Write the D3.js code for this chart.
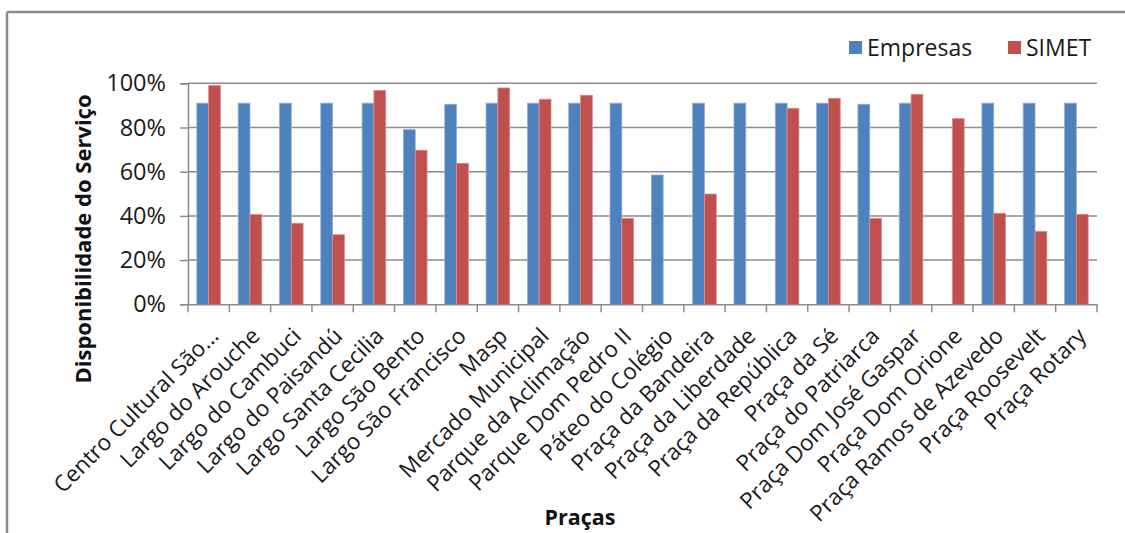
<!DOCTYPE html>
<html>
<head>
<meta charset="utf-8">
<script src="https://cdn.jsdelivr.net/npm/d3@7"></script>
<style>
  html, body { margin: 0; padding: 0; background: #fff; }
  svg { display: block; font-family: "Open Sans", sans-serif; }
</style>
</head>
<body>
<svg id="chart" width="1125" height="533"></svg>
<script>
const categories = [
  "Centro Cultural São…", "Largo do Arouche", "Largo do Cambuci", "Largo do Paisandú",
  "Largo Santa Cecilia", "Largo São Bento", "Largo São Francisco", "Masp",
  "Mercado Municipal", "Parque da Aclimação", "Parque Dom Pedro II", "Páteo do Colégio",
  "Praça da Bandeira", "Praça da Liberdade", "Praça da República", "Praça da Sé",
  "Praça do Patriarca", "Praça Dom José Gaspar", "Praça Dom Orione", "Praça Ramos de Azevedo",
  "Praça Roosevelt", "Praça Rotary"
];
const empresas = [0.91, 0.91, 0.91, 0.91, 0.91, 0.79, 0.905, 0.91, 0.91, 0.91, 0.91, 0.585,
                  0.91, 0.91, 0.91, 0.91, 0.905, 0.91, null, 0.91, 0.91, 0.91];
const simet = [0.99, 0.407, 0.367, 0.315, 0.968, 0.697, 0.638, 0.979, 0.928, 0.946, 0.389, null,
               0.499, null, 0.887, 0.932, 0.389, 0.95, 0.84, 0.412, 0.33, 0.407];
const yTicks = [0, 0.2, 0.4, 0.6, 0.8, 1.0];
const seriesNames = ["Empresas", "SIMET"];
const seriesColors = ["#4F81BD", "#C0504D"];
const seriesStroke = ["#8AAEDC", "#DC8C8A"];

const svg = d3.select("#chart");

// frame
svg.append("line").attr("x1", 7).attr("x2", 1125).attr("y1", 12).attr("y2", 12)
  .attr("stroke", "#8a8a8a").attr("stroke-width", 2.5);
svg.append("line").attr("x1", 7).attr("x2", 7).attr("y1", 12).attr("y2", 533)
  .attr("stroke", "#8a8a8a").attr("stroke-width", 2.5);

const x = d3.scaleBand().domain(categories).range([188, 1097]).paddingInner(0).paddingOuter(0);
const y = d3.scaleLinear().domain([0, 1]).range([304.3, 83.3]);

// gridlines
svg.append("g").selectAll("line").data(yTicks.filter(d => d > 0)).join("line")
  .attr("x1", 188).attr("x2", 1097)
  .attr("y1", d => y(d)).attr("y2", d => y(d))
  .attr("stroke", "#8c8c8c").attr("stroke-width", 1.5);

// bars
const bw = x.bandwidth() / 3.5;
const series = [empresas, simet];
series.forEach((vals, si) => {
  svg.append("g").selectAll("rect")
    .data(categories.map((c, i) => ({ c, v: vals[i] })).filter(d => d.v != null))
    .join("rect")
    .attr("x", d => x(d.c) + x.bandwidth() / 2 - bw + si * bw)
    .attr("y", d => y(d.v))
    .attr("width", bw)
    .attr("height", d => y(0) - y(d.v))
    .attr("fill", seriesColors[si])
    .attr("stroke", seriesStroke[si])
    .attr("stroke-width", 0.8);
});

// y axis
const yAxis = svg.append("g").attr("transform", "translate(188,0)")
  .call(d3.axisLeft(y).tickValues(yTicks).tickFormat(d3.format(".0%")).tickSize(8).tickPadding(14));
yAxis.select(".domain").attr("stroke", "#8c8c8c").attr("stroke-width", 1.5);
yAxis.selectAll(".tick line").attr("stroke", "#8c8c8c").attr("stroke-width", 1.5);
yAxis.selectAll("text").attr("font-size", 23.5).attr("fill", "#1a1a1a")
  .attr("font-family", "Open Sans, sans-serif");

// x axis
const xAxis = svg.append("g").attr("transform", `translate(0,${y(0)})`)
  .call(d3.axisBottom(x).tickSize(0).tickPadding(0));
xAxis.select(".domain").attr("stroke", "#8c8c8c").attr("stroke-width", 1.5);
xAxis.selectAll(".tick text")
  .attr("font-size", 22.5).attr("fill", "#1a1a1a").attr("font-family", "Open Sans, sans-serif")
  .attr("text-anchor", "end")
  .attr("transform", "translate(0,22) rotate(-45)")
  .attr("dy", "0.7em").attr("y", 0);
// boundary tick marks
const bounds = d3.range(categories.length + 1).map(i => 188 + i * x.step());
svg.append("g").selectAll("line").data(bounds).join("line")
  .attr("x1", d => d).attr("x2", d => d)
  .attr("y1", y(0)).attr("y2", y(0) + 8)
  .attr("stroke", "#8c8c8c").attr("stroke-width", 1.5);

// axis titles
svg.append("text").attr("transform", "translate(91,239) rotate(-90)")
  .attr("text-anchor", "middle").attr("font-size", 22).attr("font-weight", "bold")
  .attr("fill", "#111").text("Disponibilidade do Serviço");
svg.append("text").attr("x", 580).attr("y", 525)
  .attr("text-anchor", "middle").attr("font-size", 21.5).attr("font-weight", "bold")
  .attr("fill", "#111").text("Praças");

// legend
const legendX = [849, 1008];
seriesNames.forEach((n, i) => {
  svg.append("rect").attr("x", legendX[i]).attr("y", 41).attr("width", 13).attr("height", 13)
    .attr("fill", seriesColors[i]);
  svg.append("text").attr("x", legendX[i] + 18).attr("y", 56)
    .attr("font-size", 23).attr("fill", "#1a1a1a").text(n);
});
</script>
</body>
</html>
